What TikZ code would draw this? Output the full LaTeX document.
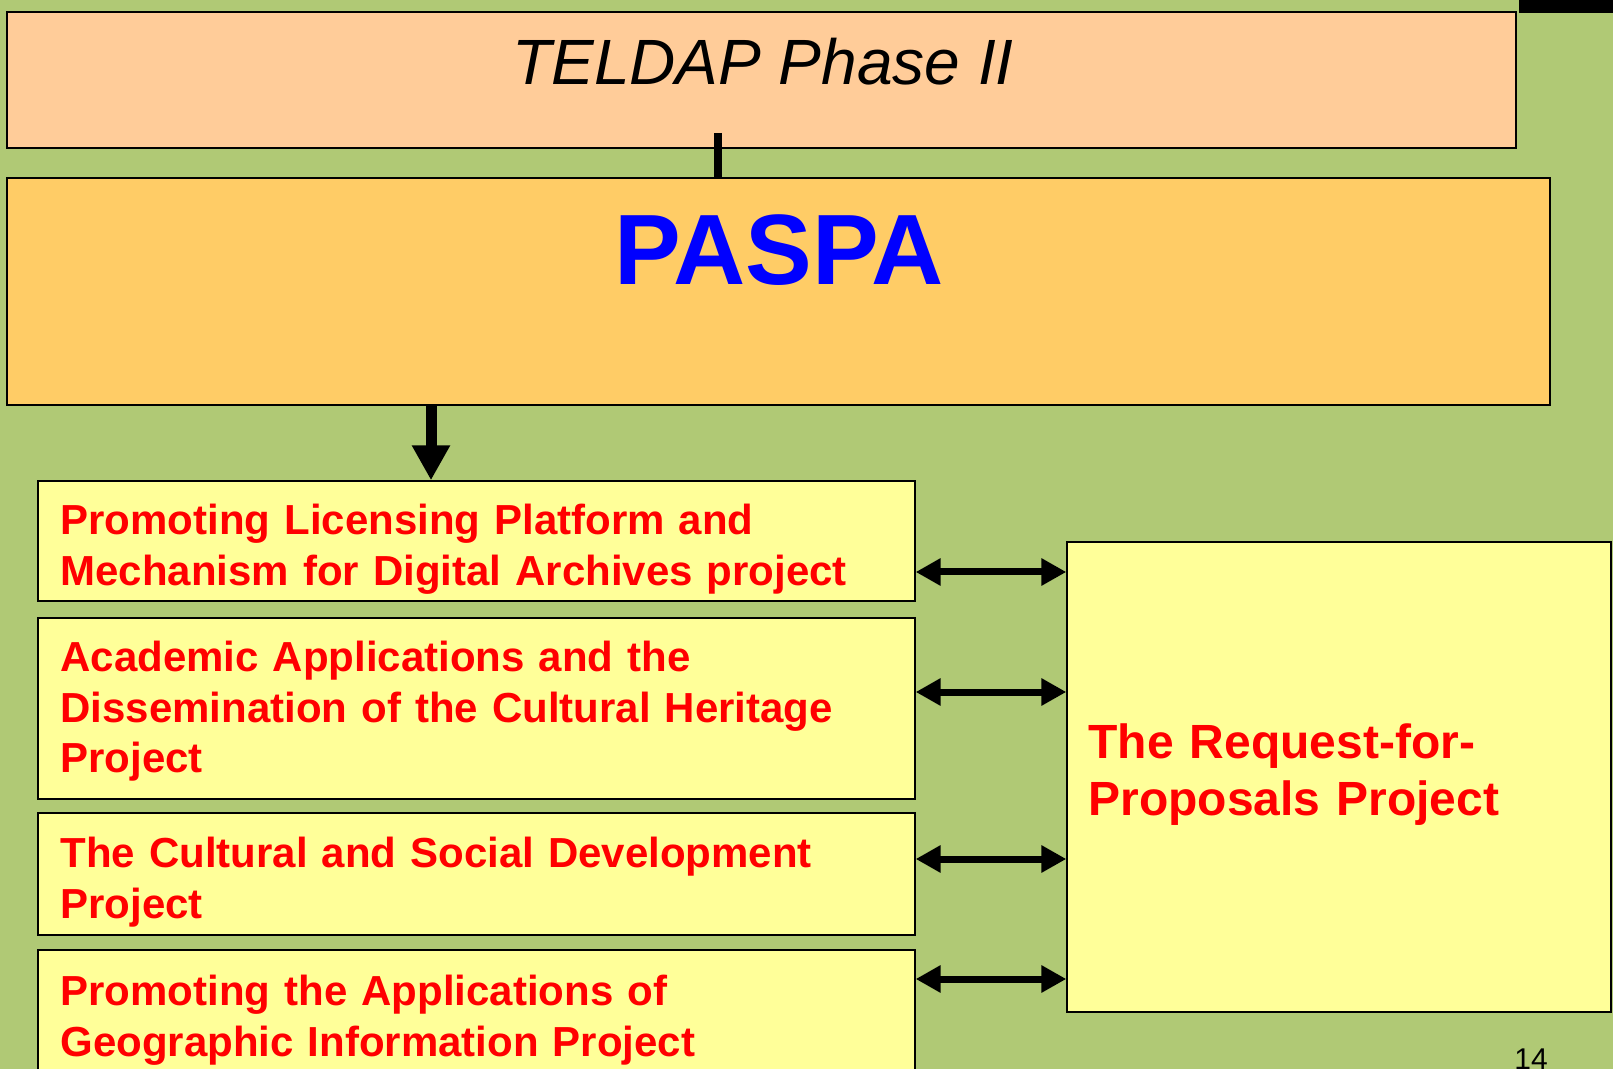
\documentclass[tikz,border=0pt]{standalone}
\usepackage{fontspec}
\setmainfont{Liberation Sans}
\usetikzlibrary{arrows.meta}
\definecolor{slidebg}{RGB}{176,201,117}
\definecolor{peach}{RGB}{255,204,153}
\definecolor{gold}{RGB}{255,204,102}
\definecolor{paleyellow}{RGB}{255,255,153}

\begin{document}
\begin{tikzpicture}[x=0.5pt,y=-0.5pt,
    box/.style={draw=black,line width=0.7pt,inner sep=0pt},
    item/.style={box,fill=paleyellow,minimum width=438.5pt},
    itemtext/.style={anchor=base west,inner sep=0pt,text width=440pt,align=left,
      text=red,font=\fontsize{21}{25.5}\selectfont\bfseries},
    biarrow/.style={line width=3.5pt,
      {Triangle[length=12.5pt,width=13pt]}-{Triangle[length=12.5pt,width=13pt]}}]
  \useasboundingbox (0,0) rectangle (1613,1069);
  \clip (0,0) rectangle (1613,1069);
  \fill[slidebg] (0,0) rectangle (1613,1069);
  \fill[black] (1519,0) rectangle (1613,13);

  % top boxes
  \node[box,fill=peach,minimum width=754.5pt,minimum height=68pt] (teldap) at (761.5,80) {};
  \node[anchor=base,inner sep=0pt,font=\fontsize{32}{38}\selectfont\itshape] (teldaptext) at (763,85) {TELDAP Phase II};
  \node[box,fill=gold,minimum width=771.5pt,minimum height=113.5pt] (paspa) at (778.5,291.5) {};
  \node[anchor=base,inner sep=0pt,text=blue,font=\fontsize{50}{60}\selectfont\bfseries] (paspatext) at (779,285) {PASPA};

  % projects
  \node[item,minimum height=60pt] (box1) at (476.5,541) {};
  \node[item,minimum height=90.5pt] (box2) at (476.5,708.5) {};
  \node[item,minimum height=61pt] (box3) at (476.5,874) {};
  \node[item,minimum height=67.5pt] (box4) at (476.5,1017.5) {};
  \node[box,fill=paleyellow,minimum width=272pt,minimum height=235pt] (rfp) at (1339,777) {};

  \node[itemtext] (text1) at (60,535) {Promoting Licensing Platform and\\Mechanism for Digital Archives project};
  \node[itemtext] (text2) at (60,671) {Academic Applications and the\\Dissemination of the Cultural Heritage\\Project};
  \node[itemtext] (text3) at (60,867) {The Cultural and Social Development\\Project};
  \node[itemtext] (text4) at (60,1005) {Promoting the Applications of\\Geographic Information Project};
  \node[itemtext,text width=260pt,font=\fontsize{24}{28.5}\selectfont\bfseries] (rfptext) at (1088,758) {The Request-for-\\Proposals Project};

  % connectors
  \coordinate (link) at (718,133);
  \draw[line width=4pt] (link) -- (link |- paspa.north);
  \coordinate (drop) at (431,0);
  \draw[line width=5.5pt,-{Triangle[length=17.5pt,width=18pt]}] (paspa.south -| drop) -- (box1.north -| drop);
  \foreach \b/\y in {box1/572,box2/692,box3/859,box4/979}
    \draw[biarrow] (\b.east |- 0,\y) -- (rfp.west |- 0,\y);

  \node[anchor=base,inner sep=0pt,font=\fontsize{15}{18}\selectfont] (pagenum) at (1531,1069) {14};
\end{tikzpicture}
\end{document}
